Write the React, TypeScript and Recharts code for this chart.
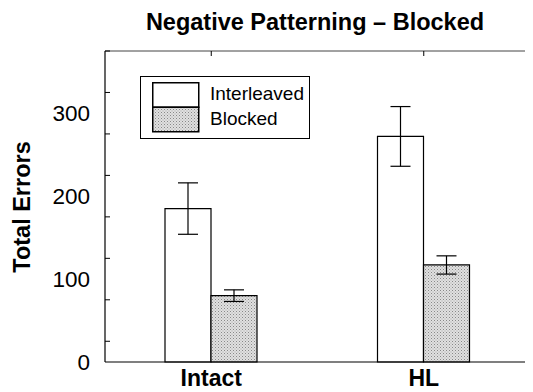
import { ComposedChart, Bar, Line, XAxis, YAxis, ErrorBar, Legend } from "recharts";

const groups = ["Intact", "HL"];
const interleaved = [185, 272];
const interleavedErr = [31, 36];
const blocked = [80, 117];
const blockedErr = [7, 11];
const labelTicks = [0, 100, 200, 300];
const minorTicks = [0, 25, 50, 75, 100, 125, 150, 175, 200, 225, 250, 275, 300, 325, 350, 375];
const legendOrder = ["Interleaved", "Blocked"];

const data = groups.map((name, i) => ({
  name,
  interleaved: interleaved[i],
  interleavedErr: interleavedErr[i],
  blocked: blocked[i],
  blockedErr: blockedErr[i],
}));

const font = "'Liberation Sans', Arial, Helvetica, sans-serif";

const NoLabel = () => <g />;

const Stipple = ({ id }: { id: string }) => (
  <pattern id={id} width="3" height="3" patternUnits="userSpaceOnUse">
    <rect width="3" height="3" fill="#e0e0e0" />
    <rect x="0" y="0" width="1" height="1" fill="#888" />
    <rect x="1.5" y="1.5" width="1" height="1" fill="#a4a4a4" />
  </pattern>
);

const LegendBox = (props: any) => {
  const items = (props.payload || [])
    .filter((p: any) => legendOrder.includes(p.value))
    .sort((a: any, b: any) => legendOrder.indexOf(a.value) - legendOrder.indexOf(b.value));
  return (
    <div
      style={{
        width: 170,
        height: 63,
        border: "1.5px solid #000",
        boxSizing: "border-box",
        position: "relative",
        background: "#fff",
        fontFamily: font,
        fontSize: 19,
        color: "#000",
      }}
    >
      <svg style={{ position: "absolute", left: 11, top: 5 }} width={48} height={51}>
        <defs>
          <Stipple id="legendStipple" />
        </defs>
        <rect x={0.75} y={0.75} width={46} height={24.5} fill="#fff" stroke="#000" strokeWidth={1.5} />
        <rect x={0.75} y={25.25} width={46} height={24.5} fill="url(#legendStipple)" stroke="#000" strokeWidth={1.5} />
      </svg>
      {items.map((item: any, i: number) => (
        <div
          key={item.value}
          style={{ position: "absolute", left: 69, top: 6 + i * 25, lineHeight: "22px", whiteSpace: "nowrap" }}
        >
          {item.value}
        </div>
      ))}
    </div>
  );
};

export default function App() {
  return (
    <div style={{ position: "relative", width: 525, height: 384, fontFamily: font }}>
      <ComposedChart
        width={525}
        height={384}
        data={data}
        margin={{ top: 43, right: 3, left: 0, bottom: 0 }}
        barGap={0}
        barSize={46}
      >
        <defs>
          <Stipple id="barStipple" />
        </defs>
        <XAxis
          xAxisId="b"
          dataKey="name"
          height={30}
          tickLine={false}
          axisLine={{ stroke: "#000", strokeWidth: 1.2 }}
          tick={{ fill: "#000", fontSize: 23, fontWeight: "bold", fontFamily: font }}
          tickMargin={2}
        />
        <XAxis
          xAxisId="t"
          dataKey="name"
          orientation="top"
          mirror
          tick={NoLabel}
          tickSize={5}
          tickLine={{ stroke: "#000" }}
          axisLine={{ stroke: "#444", strokeWidth: 1 }}
        />
        <YAxis
          yAxisId="l"
          type="number"
          domain={[0, 375]}
          ticks={labelTicks}
          width={97}
          tickLine={false}
          tickSize={0}
          tickMargin={15}
          axisLine={{ stroke: "#000", strokeWidth: 1.2 }}
          tick={{ fill: "#000", fontSize: 22.5, fontFamily: font }}
        />
        <YAxis
          yAxisId="lm"
          type="number"
          domain={[0, 375]}
          ticks={minorTicks}
          mirror
          tick={NoLabel}
          tickSize={5}
          axisLine={false}
          tickLine={{ stroke: "#000" }}
        />
        <YAxis
          yAxisId="r"
          orientation="right"
          type="number"
          domain={[0, 375]}
          ticks={minorTicks}
          mirror
          tick={NoLabel}
          tickSize={4}
          axisLine={{ stroke: "#555" }}
          tickLine={{ stroke: "#000" }}
        />
        <Legend
          layout="vertical"
          align="center"
          verticalAlign="middle"
          content={<LegendBox />}
          wrapperStyle={{ left: 132, top: 68, width: 170, height: 63 }}
        />
        <Bar
          xAxisId="b"
          yAxisId="l"
          dataKey="interleaved"
          name="Interleaved"
          fill="#fff"
          stroke="#000"
          strokeWidth={1.2}
          isAnimationActive={false}
        >
          <ErrorBar dataKey="interleavedErr" width={10} stroke="#000" strokeWidth={1.2} />
        </Bar>
        <Bar
          xAxisId="b"
          yAxisId="l"
          dataKey="blocked"
          name="Blocked"
          fill="url(#barStipple)"
          stroke="#000"
          strokeWidth={1.2}
          isAnimationActive={false}
        >
          <ErrorBar dataKey="blockedErr" width={10} stroke="#000" strokeWidth={1.2} />
        </Bar>
        {/* invisible series so the frame axes get scales and draw their ticks */}
        <Line
          xAxisId="t"
          yAxisId="lm"
          dataKey="blocked"
          stroke="none"
          dot={false}
          activeDot={false}
          legendType="none"
          isAnimationActive={false}
        />
        <Line
          xAxisId="t"
          yAxisId="r"
          dataKey="blocked"
          stroke="none"
          dot={false}
          activeDot={false}
          legendType="none"
          isAnimationActive={false}
        />
      </ComposedChart>
      <div
        style={{
          position: "absolute",
          left: 307,
          top: 14,
          transform: "translate(-50%, -50%)",
          whiteSpace: "nowrap",
          fontSize: 23.5,
          fontWeight: "bold",
          color: "#000",
        }}
      >
        Negative Patterning – Blocked
      </div>
      <div
        style={{
          position: "absolute",
          left: 14,
          top: 199,
          transform: "translate(-50%, -50%) rotate(-90deg)",
          whiteSpace: "nowrap",
          fontSize: 23.5,
          fontWeight: "bold",
          color: "#000",
        }}
      >
        Total Errors
      </div>
    </div>
  );
}
